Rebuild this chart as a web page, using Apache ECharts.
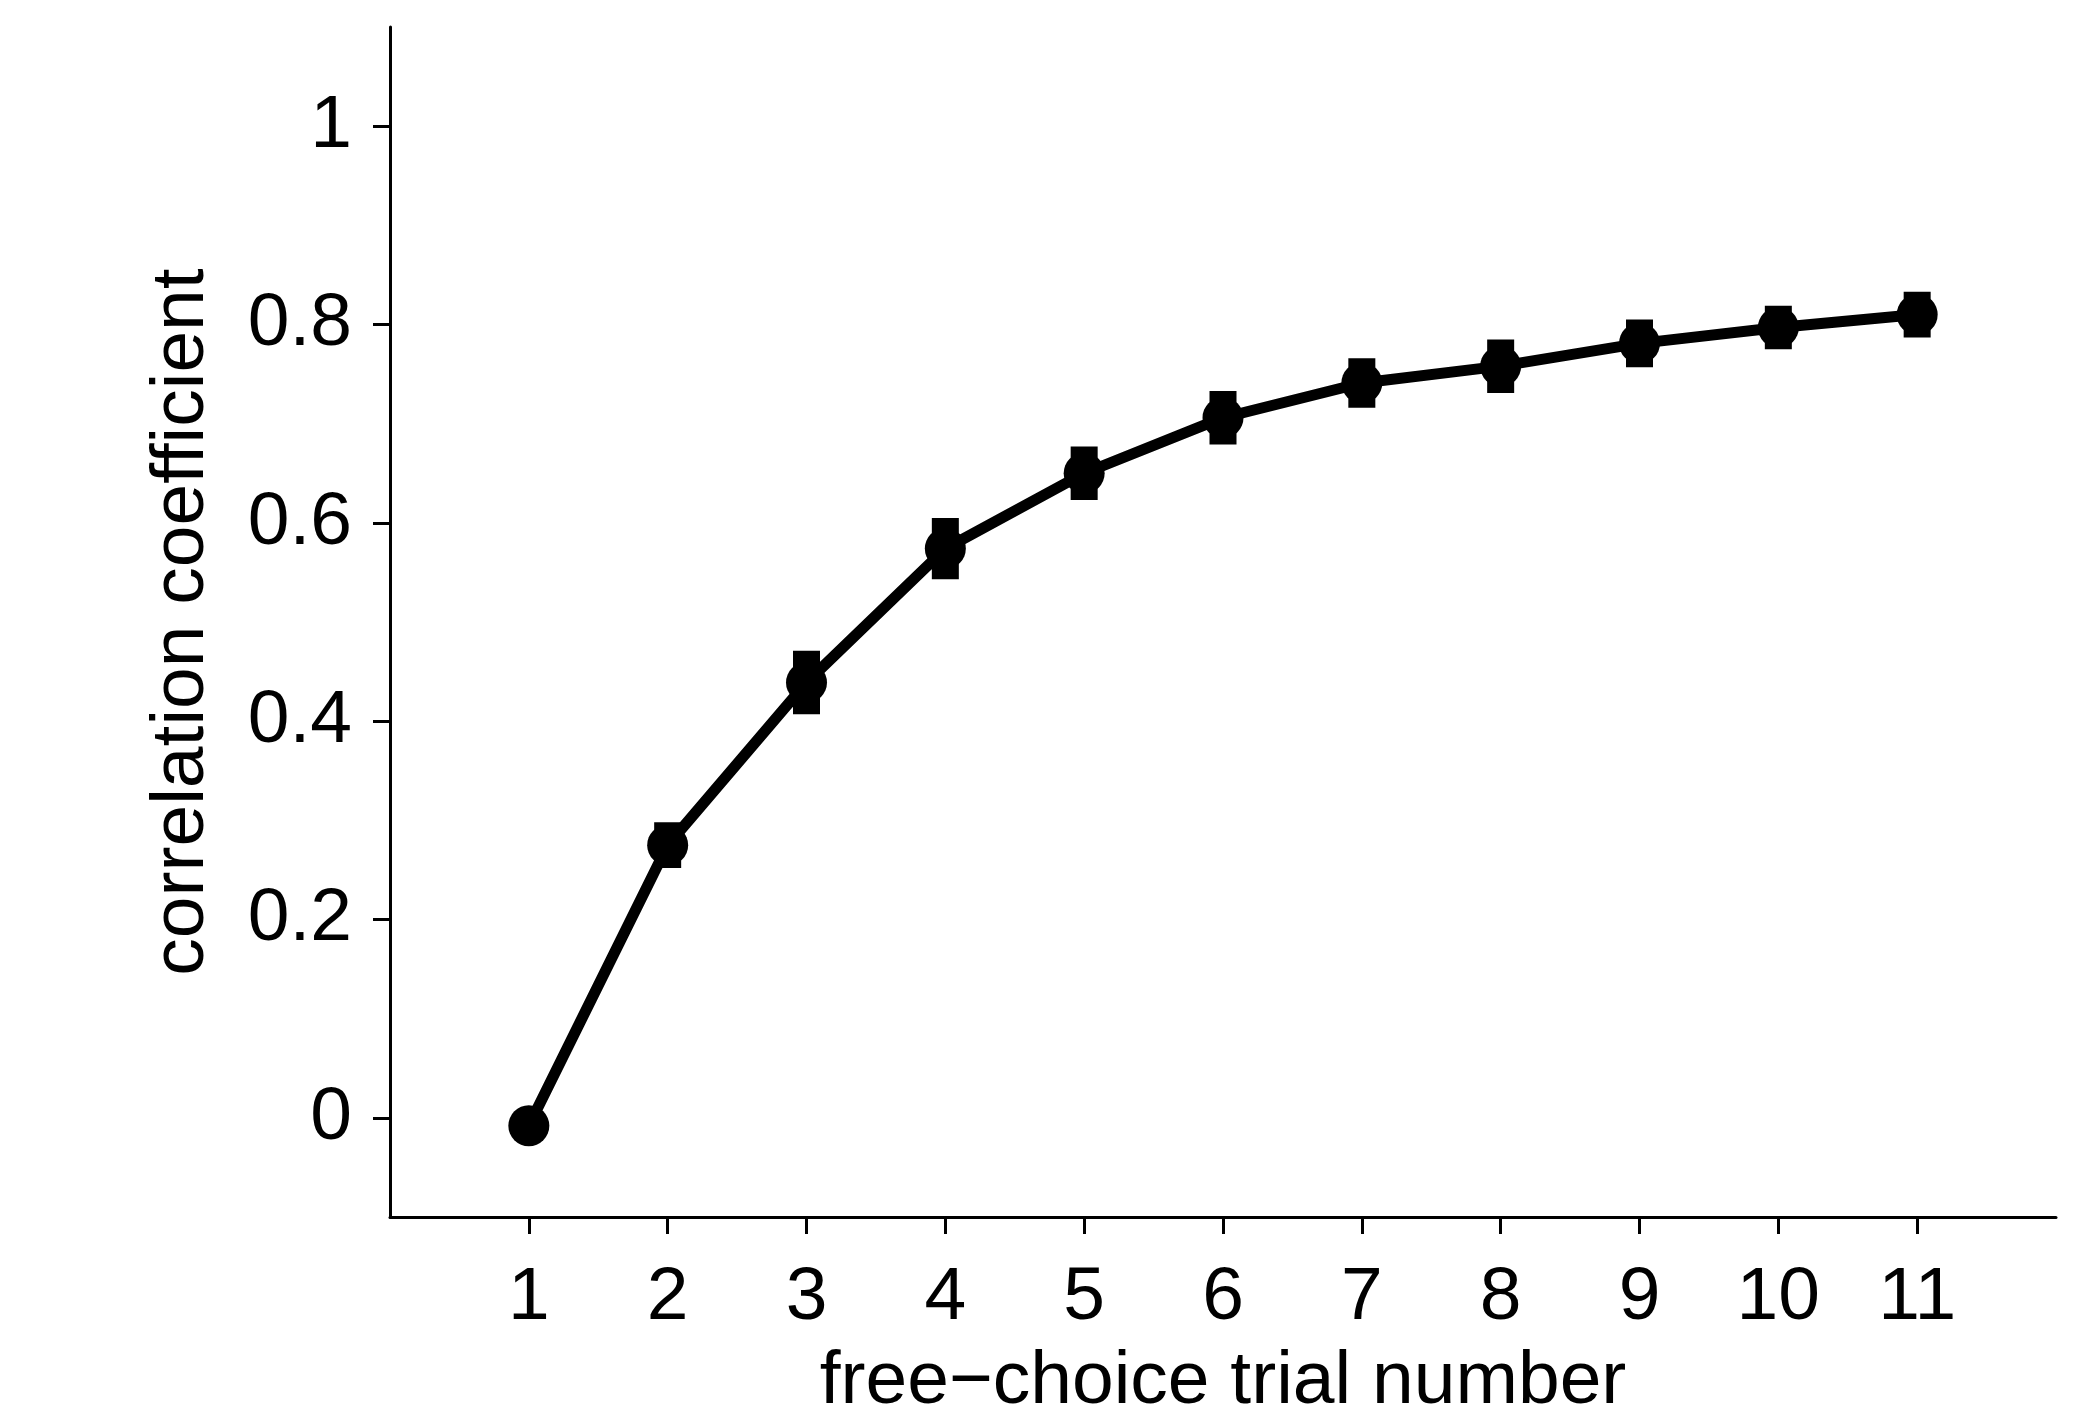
<!DOCTYPE html>
<html>
<head>
<meta charset="utf-8">
<script src="https://cdn.jsdelivr.net/npm/echarts@6/dist/echarts.min.js"></script>
<style>
html,body{margin:0;padding:0;background:#fff;}
#c{width:2100px;height:1411px;}
</style>
</head>
<body>
<div id="c"></div>
<script>
const trials = [1, 2, 3, 4, 5, 6, 7, 8, 9, 10, 11];
const means = [-0.008, 0.275, 0.439, 0.574, 0.650, 0.706, 0.741, 0.758, 0.781, 0.797, 0.810];
const errs = [0.005, 0.023, 0.032, 0.031, 0.027, 0.027, 0.025, 0.027, 0.024, 0.022, 0.023];
const yTicks = [0, 0.2, 0.4, 0.6, 0.8, 1];
const xTicks = [1, 2, 3, 4, 5, 6, 7, 8, 9, 10, 11];
const xTitle = 'free\u2212choice trial number';
const yTitle = 'correlation coefficient';

const FONT = '"Liberation Sans", Arial, Helvetica, sans-serif';
const chart = echarts.init(document.getElementById('c'), null, {renderer: 'canvas'});

const lineData = trials.map((t, i) => [t, means[i]]);
const errData = trials.map((t, i) => [t, means[i] - errs[i], means[i] + errs[i]]);

const axisCommon = {
  axisLine: {show: true, onZero: false, lineStyle: {color: '#000', width: 3}},
  splitLine: {show: false},
  nameTextStyle: {color: '#000', fontSize: 75, fontFamily: FONT},
};

chart.setOption({
  animation: false,
  backgroundColor: '#fff',
  grid: {left: 390, right: 44, top: 27, bottom: 194, containLabel: false, outerBoundsMode: 'none'},
  xAxis: Object.assign({}, axisCommon, {
    type: 'value', min: 0, max: 12,
    name: xTitle, nameLocation: 'middle', nameGap: 128,
    axisTick: {show: true, length: 17, lineStyle: {color: '#000', width: 3}, customValues: xTicks},
    axisLabel: {color: '#000', fontSize: 75, fontFamily: FONT, margin: 44, customValues: xTicks,
      formatter: v => String(v)}
  }),
  yAxis: Object.assign({}, axisCommon, {
    type: 'value', min: -0.1, max: 1.1,
    name: yTitle, nameLocation: 'middle', nameGap: 170, nameRotate: 90,
    axisTick: {show: true, length: 17, lineStyle: {color: '#000', width: 3}, customValues: yTicks},
    axisLabel: {color: '#000', fontSize: 75, fontFamily: FONT, margin: 38, customValues: yTicks,
      formatter: v => (Math.round(v * 10) / 10).toString()}
  }),
  series: [
    {
      type: 'custom',
      data: errData,
      encode: {x: 0, y: [1, 2]},
      renderItem: function (params, api) {
        const x = api.value(0);
        const top = api.coord([x, api.value(2)]);
        const bot = api.coord([x, api.value(1)]);
        return {
          type: 'rect',
          shape: {x: top[0] - 13.5, y: top[1], width: 27, height: bot[1] - top[1]},
          style: {fill: '#000'}
        };
      },
      z: 2
    },
    {
      type: 'line',
      data: lineData,
      symbol: 'circle',
      symbolSize: 41,
      lineStyle: {color: '#000', width: 11},
      itemStyle: {color: '#000'},
      z: 3
    }
  ]
});
</script>
</body>
</html>
